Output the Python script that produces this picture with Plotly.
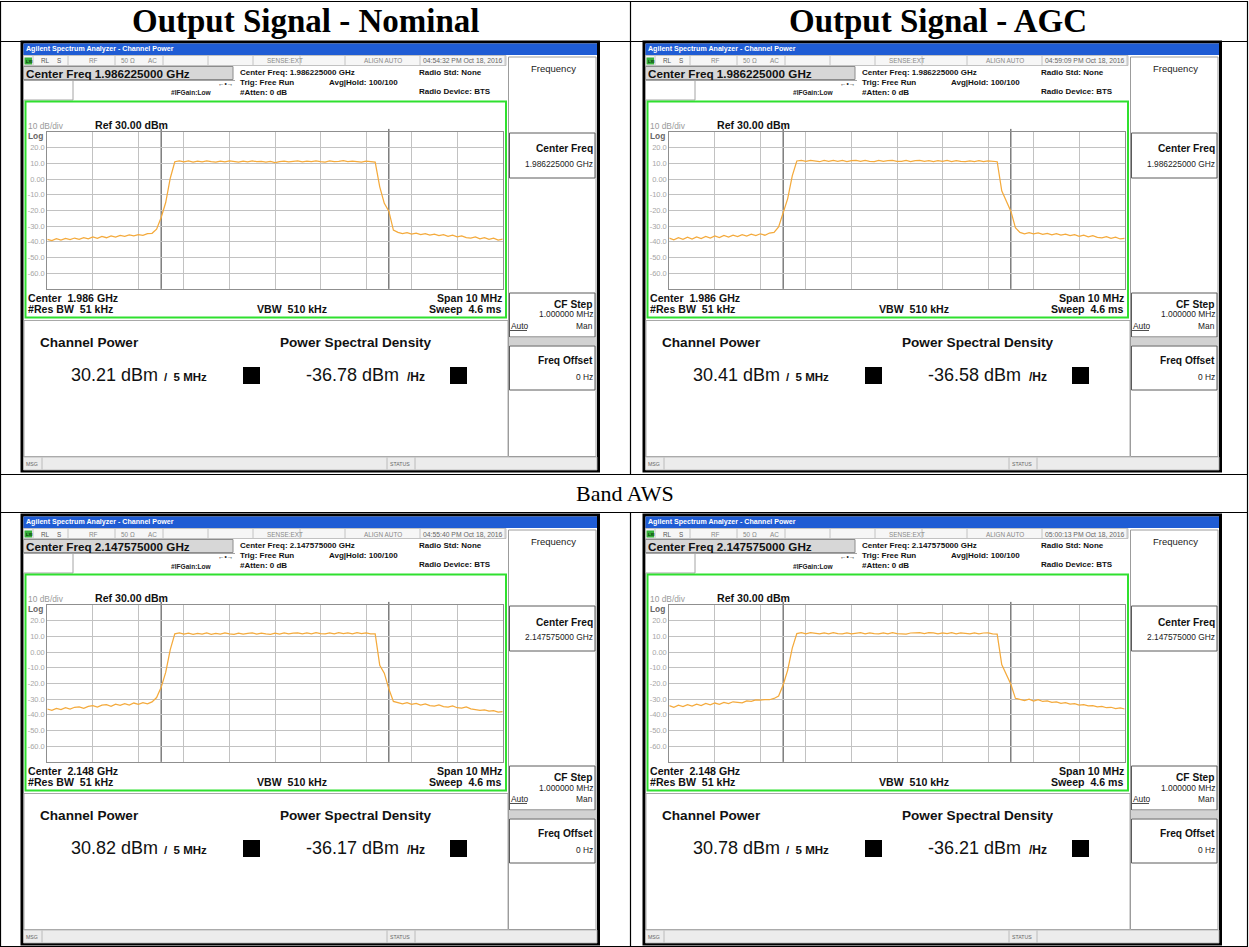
import numpy as np
import plotly.graph_objects as go

W, H = 1249, 947
FONT = "Liberation Sans, Arial, sans-serif"
SERIF = "Liberation Serif, Times New Roman, serif"

# Sweep points: offset from the center frequency in MHz (10 MHz span)
freq_offset_mhz = np.round(np.linspace(-5.0, 5.0, 101), 2)

# Averaged spectrum traces, dBm
trace_nominal_1986 = [
    -38.4, -39.2, -38.0, -38.9, -37.8, -38.6, -37.6, -38.4, -37.3, -38.1,
    -36.9, -37.8, -36.5, -37.4, -36.2, -37.0, -35.9, -36.5, -35.6, -36.2,
    -35.4, -35.9, -34.8, -34.6, -32.0, -24.5, -15.0, 0.5, 11.0, 11.6,
    10.9, 11.5, 10.8, 11.4, 10.9, 11.6, 11.0, 10.7, 11.4, 10.9,
    11.5, 11.0, 10.8, 11.4, 10.9, 11.6, 11.0, 11.3, 10.8, 11.2,
    10.5, 11.1, 11.4, 10.9, 11.2, 11.5, 10.9, 11.4, 11.0, 11.6,
    11.1, 10.8, 11.5, 11.0, 11.3, 11.7, 11.0, 11.4, 11.1, 10.8,
    11.4, 11.1, 10.8, -5.0, -15.5, -20.5, -32.5, -34.0, -34.8, -34.2,
    -35.1, -34.5, -35.4, -34.8, -35.8, -35.1, -36.1, -35.5, -36.5, -35.8,
    -36.9, -36.2, -37.3, -37.6, -36.9, -38.1, -37.3, -38.5, -37.7, -38.9,
    -38.3,
]
trace_agc_1986 = [
    -37.7, -38.7, -37.4, -38.4, -37.1, -38.2, -36.9, -37.9, -36.6, -37.6,
    -36.3, -37.3, -36.0, -37.0, -35.8, -36.7, -35.5, -36.4, -35.2, -36.1,
    -34.9, -35.8, -34.4, -34.0, -30.5, -22.0, -12.5, 2.0, 11.5, 11.9,
    11.2, 11.9, 11.3, 11.0, 11.8, 11.2, 11.9, 11.3, 11.8, 11.1,
    11.7, 11.9, 11.2, 11.8, 11.3, 11.1, 11.8, 11.2, 11.7, 11.9,
    11.3, 11.2, 11.8, 11.1, 11.7, 11.8, 11.2, 11.7, 11.1, 11.7,
    11.2, 11.8, 11.1, 11.7, 11.2, 11.0, 11.6, 11.1, 11.7, 11.0,
    11.6, 11.2, 11.0, -7.5, -14.5, -20.5, -31.0, -34.0, -34.9, -34.1,
    -35.0, -34.3, -35.3, -34.6, -35.5, -34.8, -35.8, -35.1, -36.1, -35.4,
    -36.5, -35.8, -36.8, -36.1, -37.2, -37.5, -36.7, -37.8, -37.1, -38.2,
    -37.8,
]
trace_nominal_2148 = [
    -36.3, -37.2, -35.9, -36.7, -35.4, -36.3, -35.2, -35.0, -35.9, -34.6,
    -34.2, -35.1, -33.9, -33.6, -34.6, -33.2, -34.0, -32.9, -33.8, -32.5,
    -33.3, -32.2, -33.0, -31.8, -29.0, -22.5, -13.0, 1.5, 11.6, 12.2,
    11.4, 12.0, 11.3, 11.9, 11.4, 12.1, 11.3, 11.9, 11.4, 12.1,
    11.5, 11.3, 12.0, 11.4, 11.9, 12.1, 11.4, 12.0, 11.5, 11.3,
    12.0, 11.4, 12.1, 11.5, 12.0, 12.2, 11.5, 12.1, 11.6, 12.3,
    11.7, 11.5, 12.2, 11.6, 12.3, 11.7, 12.2, 11.6, 12.3, 11.7,
    12.2, 11.6, 11.5, -8.5, -13.5, -23.5, -31.5, -32.1, -33.1, -32.3,
    -33.4, -32.7, -33.8, -33.0, -34.2, -34.5, -33.7, -34.8, -35.1, -34.3,
    -35.5, -35.8, -35.0, -36.2, -36.6, -37.1, -36.8, -37.7, -37.4, -38.3,
    -38.0,
]
trace_agc_2148 = [
    -34.2, -35.2, -33.9, -34.7, -33.5, -34.4, -33.2, -34.1, -32.8, -33.6,
    -32.5, -33.3, -32.1, -32.9, -31.7, -32.1, -32.4, -31.1, -31.4, -30.5,
    -30.7, -30.3, -30.4, -29.6, -28.0, -21.0, -11.5, 2.5, 11.7, 12.3,
    11.6, 12.3, 11.7, 11.5, 12.2, 11.6, 12.3, 11.7, 11.6, 12.2,
    11.5, 12.1, 12.3, 11.6, 12.2, 11.7, 11.5, 12.2, 11.6, 12.3,
    11.7, 11.6, 11.4, 12.1, 12.3, 12.4, 11.7, 12.3, 12.2, 11.6,
    12.2, 11.7, 12.3, 11.6, 12.2, 11.7, 11.5, 12.2, 11.6, 12.1,
    12.2, 11.6, 11.4, -8.0, -14.0, -20.5, -29.5, -30.1, -30.9, -30.1,
    -31.2, -30.4, -31.5, -31.2, -32.1, -31.8, -32.7, -32.3, -33.2, -32.9,
    -33.8, -33.5, -34.3, -34.1, -35.0, -34.7, -35.5, -35.2, -36.0, -35.6,
    -36.3,
]

center_freq_ghz = ["1.986225000", "1.986225000", "2.147575000", "2.147575000"]
center_short = ["1.986 GHz", "1.986 GHz", "2.148 GHz", "2.148 GHz"]
timestamps = ["04:54:32 PM Oct 18, 2016", "04:59:09 PM Oct 18, 2016",
              "04:55:40 PM Oct 18, 2016", "05:00:13 PM Oct 18, 2016"]
channel_power_dbm = [30.21, 30.41, 30.82, 30.78]
psd_dbm_hz = [-36.78, -36.58, -36.17, -36.21]
column_titles = ["Output Signal - Nominal", "Output Signal - AGC"]
band_title = "Band AWS"
channel_bw_mhz = 5
ref_level_dbm = 30
db_per_div = 10

traces = [trace_nominal_1986, trace_agc_1986, trace_nominal_2148, trace_agc_2148]
panel_dx = [0, 622, 0, 622]
panel_dy = [0, 0, 473, 473]

TRACE = "#f4aa3c"
GRID = "#c2c2c2"

shapes = []
annotations = []


def fx(px):
    return px / W


def fy(py):
    return 1 - py / H


def rect(x0, y0, x1, y1, fill=None, line=None, lw=1.0, layer="below"):
    shapes.append(dict(
        type="rect", xref="paper", yref="paper",
        x0=fx(x0), x1=fx(x1), y0=fy(y1), y1=fy(y0),
        fillcolor=fill or "rgba(0,0,0,0)",
        line=dict(color=line or "rgba(0,0,0,0)", width=lw if line else 0),
        layer=layer))


def seg(x0, y0, x1, y1, color, lw=1.0, layer="below"):
    shapes.append(dict(
        type="line", xref="paper", yref="paper",
        x0=fx(x0), x1=fx(x1), y0=fy(y0), y1=fy(y1),
        line=dict(color=color, width=lw), layer=layer))


def text(x, y, s, size, color="#111111", bold=False, anchor="left", family=FONT):
    annotations.append(dict(
        x=fx(x), y=fy(y), xref="paper", yref="paper",
        text=f"<b>{s}</b>" if bold else s, showarrow=False,
        xanchor=anchor, yanchor="middle", borderpad=0,
        font=dict(family=family, size=size, color=color)))


NB = "\u00a0"

# plot box of the first screen, pixels
PX0, PX1, PY0, PY1 = 47.3, 502.7, 131.9, 288.9

fig = go.Figure()

for k in range(4):
    dx, dy = panel_dx[k], panel_dy[k]
    X = lambda v, dx=dx: v + dx
    Y = lambda v, dy=dy: v + dy

    # window frame and title bar
    rect(X(22), Y(42), X(598.5), Y(471), fill="white", line="#000000", lw=3)
    rect(X(23.5), Y(43.5), X(597), Y(55), fill="#1f5cd4")
    text(X(25), Y(49.4), "Agilent Spectrum Analyzer - Channel Power", 7.1, "white", bold=True)

    # status row
    rect(X(23.5), Y(55.5), X(506), Y(65.5), fill="#f6f6f6", line="#b4b4b4", lw=0.8)
    for sx in [33, 68, 115, 163, 208, 253, 300, 345, 420, 505]:
        seg(X(sx), Y(56), X(sx), Y(65), "#b8b8b8", 0.8)
    rect(X(24.5), Y(57.5), X(32), Y(64.5), fill="#35b03a")
    text(X(25), Y(61.2), "LXI", 4.2, "#0a300a", bold=True)
    text(X(40), Y(61), "RL", 6.4, "#555555")
    text(X(56), Y(61), "S", 6.4, "#555555")
    text(X(88), Y(61), "RF", 6.4, "#888888")
    text(X(120), Y(61), "50 Ω", 6.4, "#888888")
    text(X(147), Y(61), "AC", 6.4, "#888888")
    text(X(266), Y(61), "SENSE:EXT", 6.4, "#888888")
    text(X(363), Y(61), "ALIGN AUTO", 6.4, "#888888")
    text(X(422), Y(61), timestamps[k], 6.8, "#666666")

    # measurement header
    rect(X(23.5), Y(66.5), X(233), Y(79.5), fill="#d7d7d7", line="#8c8c8c", lw=1)
    text(X(25), Y(73.2), f"Center Freq {center_freq_ghz[k]} GHz", 11.7, "#111111", bold=True)
    rect(X(23.5), Y(80.5), X(73), Y(100), fill="white", line="#a4a4a4", lw=1)
    seg(X(73), Y(80.5), X(235), Y(80.5), "#a4a4a4", 1)
    text(X(170), Y(93), "#IFGain:Low", 6.6, "#222222", bold=True)
    text(X(217), Y(83), "←•→", 6.5, "#222222")
    text(X(239), Y(72.5), f"Center Freq: {center_freq_ghz[k]} GHz", 8.0, "#111111", bold=True)
    text(X(239), Y(82.2), "Trig: Free Run", 8.0, "#111111", bold=True)
    text(X(239), Y(92.2), "#Atten: 0 dB", 8.0, "#111111", bold=True)
    text(X(328), Y(82.5), "Avg|Hold: 100/100", 8.0, "#111111", bold=True)
    text(X(418), Y(72.6), "Radio Std: None", 8.0, "#111111", bold=True)
    text(X(418), Y(91.8), "Radio Device: BTS", 8.0, "#111111", bold=True)

    # graticule frame
    rect(X(25.5), Y(101.5), X(506), Y(317.5), line="#2fe02f", lw=2)
    text(X(27), Y(125.5), "10 dB/div", 8.4, "#9a9a9a")
    text(X(94), Y(125.2), f"Ref {ref_level_dbm:.2f} dBm", 10.6, "#111111", bold=True)
    text(X(27), Y(135.8), "Log", 8.4, "#666666", bold=True)
    text(X(27), Y(297.6), f"Center{NB}{NB}{center_short[k]}", 10.6, "#111111", bold=True)
    text(X(27), Y(309), f"#Res BW{NB}{NB}51 kHz", 10.6, "#111111", bold=True)
    text(X(292), Y(309), f"VBW{NB}{NB}510 kHz", 10.6, "#111111", bold=True, anchor="center")
    text(X(503), Y(297.6), "Span 10 MHz", 10.6, "#111111", bold=True, anchor="right")
    text(X(503), Y(309), f"Sweep{NB}{NB}4.6 ms", 10.6, "#111111", bold=True, anchor="right")

    # results area
    rect(X(24), Y(320.5), X(508), Y(456.5), fill="white", line="#a8a8a8", lw=1)
    text(X(39), Y(342.6), "Channel Power", 13.6, "#111111", bold=True)
    text(X(279), Y(342.6), "Power Spectral Density", 13.6, "#111111", bold=True)
    text(X(70), Y(374.5), f"{channel_power_dbm[k]:.2f} dBm", 18, "#111111")
    text(X(163), Y(376.6), f"/{NB}{NB}5{NB}MHz", 11.5, "#111111", bold=True)
    rect(X(243), Y(367), X(260), Y(384), fill="#000000")
    text(X(305), Y(374.5), f"{psd_dbm_hz[k]:.2f} dBm", 18, "#111111")
    text(X(406), Y(376.6), "/Hz", 12, "#111111", bold=True)
    rect(X(450), Y(367), X(467), Y(384), fill="#000000")

    # message bar
    rect(X(23.5), Y(457), X(597), Y(470), fill="#ececec", line="#b0b0b0", lw=0.8)
    for sx in [42, 387, 415]:
        seg(X(sx), Y(457.5), X(sx), Y(469.5), "#b0b0b0", 0.8)
    text(X(25), Y(463.8), "MSG", 5.2, "#666666")
    text(X(389), Y(463.8), "STATUS", 5.2, "#666666")

    # soft-key column
    rect(X(508.5), Y(57), X(596), Y(456.5), fill="white", line="#9c9c9c", lw=1)
    text(X(553), Y(68.5), "Frequency", 9.5, "#222222", anchor="center")
    rect(X(509.5), Y(133), X(595), Y(178), fill="white", line="#5a5a5a", lw=1)
    text(X(594), Y(149), "Center Freq", 10.2, "#111111", bold=True, anchor="right")
    text(X(594), Y(164), f"{center_freq_ghz[k]} GHz", 8.4, "#222222", anchor="right")
    rect(X(509.5), Y(293), X(595), Y(337), fill="white", line="#5a5a5a", lw=1)
    text(X(594), Y(304), "CF Step", 10.2, "#111111", bold=True, anchor="right")
    text(X(594), Y(314.5), "1.000000 MHz", 8.4, "#222222", anchor="right")
    text(X(510), Y(326.3), "Auto", 8.4, "#222222")
    seg(X(510), Y(330.5), X(527), Y(330.5), "#222222", 0.8)
    text(X(594), Y(326.3), "Man", 8.4, "#222222", anchor="right")
    rect(X(509), Y(337.5), X(595.5), Y(345.5), fill="#d2d2d2")
    rect(X(509.5), Y(346), X(595), Y(390), fill="white", line="#5a5a5a", lw=1)
    text(X(594), Y(360.5), "Freq Offset", 10.2, "#111111", bold=True, anchor="right")
    text(X(594), Y(376.6), "0 Hz", 8.4, "#222222", anchor="right")

    # spectrum plot
    n = "" if k == 0 else str(k + 1)
    tick_vals = [ref_level_dbm - db_per_div * i for i in range(1, 10)]
    tick_text = ["0.00" if v == 0 else f"{v:.1f}" for v in tick_vals]
    fig.update_layout(**{
        f"xaxis{n}": dict(
            domain=[fx(X(PX0)), fx(X(PX1))], anchor=f"y{n}",
            range=[-5, 5], tick0=-5, dtick=1, showgrid=True, gridcolor=GRID,
            gridwidth=1, zeroline=False, showticklabels=False, ticks="",
            showline=True, mirror=True, linecolor="#8f8f8f", linewidth=1,
            fixedrange=True, automargin=False),
        f"yaxis{n}": dict(
            domain=[fy(Y(PY1)), fy(Y(PY0))], anchor=f"x{n}",
            range=[ref_level_dbm - 10 * db_per_div, ref_level_dbm],
            tickvals=tick_vals, ticktext=tick_text, showgrid=True,
            gridcolor=GRID, gridwidth=1, zeroline=False, ticks="",
            tickfont=dict(family=FONT, size=7.5, color="#a6a6a6"),
            showline=True, mirror=True, linecolor="#8f8f8f", linewidth=1,
            fixedrange=True, automargin=False),
    })
    for edge in (-channel_bw_mhz / 2, channel_bw_mhz / 2):
        shapes.append(dict(
            type="line", xref=f"x{n}", yref="paper", x0=edge, x1=edge,
            y0=fy(Y(PY1)), y1=fy(Y(PY0 - 3)),
            line=dict(color="#3c3c3c", width=1), layer="between"))
    fig.add_trace(go.Scatter(
        x=freq_offset_mhz, y=traces[k], mode="lines",
        line=dict(color=TRACE, width=1.25),
        xaxis=f"x{n}", yaxis=f"y{n}", hoverinfo="skip", showlegend=False))

# table rules
rect(0.5, 1.5, 1247.5, 946.5, line="#000000", lw=1.2, layer="above")
seg(0.5, 41.5, 1247.5, 41.5, "#000000", 1.2, "above")
seg(0.5, 474.5, 1247.5, 474.5, "#000000", 1.2, "above")
seg(0.5, 512.5, 1247.5, 512.5, "#000000", 1.2, "above")
seg(630.5, 1.5, 630.5, 474.5, "#000000", 1.2, "above")
seg(630.5, 512.5, 630.5, 946.5, "#000000", 1.2, "above")

text(306, 21.5, column_titles[0], 33, "#000000", bold=True, anchor="center", family=SERIF)
text(938, 21.5, column_titles[1], 33, "#000000", bold=True, anchor="center", family=SERIF)
text(625, 493.5, band_title, 22, "#000000", anchor="center", family=SERIF)

fig.update_layout(
    width=W, height=H, autosize=False,
    margin=dict(l=0, r=0, t=0, b=0, pad=0),
    paper_bgcolor="white", plot_bgcolor="rgba(0,0,0,0)",
    shapes=shapes, annotations=annotations, showlegend=False,
)

fig.write_html("out.html")
